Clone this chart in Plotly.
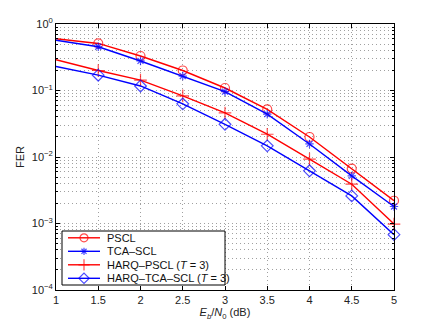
import plotly.graph_objects as go

ebn0 = [1, 1.5, 2, 2.5, 3, 3.5, 4, 4.5, 5]
pscl = [0.60, 0.51, 0.33, 0.20, 0.109, 0.052, 0.020, 0.0067, 0.0022]
tca_scl = [0.57, 0.455, 0.278, 0.165, 0.096, 0.044, 0.0157, 0.0052, 0.0018]
harq_pscl = [0.29, 0.20, 0.143, 0.083, 0.046, 0.022, 0.0093, 0.0039, 0.00098]
harq_tca_scl = [0.23, 0.17, 0.117, 0.063, 0.031, 0.0147, 0.0062, 0.0026, 0.00068]

x_ticks = [1, 1.5, 2, 2.5, 3, 3.5, 4, 4.5, 5]
x_ticktext = ["1", "1.5", "2", "2.5", "3", "3.5", "4", "4.5", "5"]
y_ticks = [1e-4, 1e-3, 1e-2, 1e-1, 1]
y_ticktext = ["10<sup>−4</sup>", "10<sup>−3</sup>", "10<sup>−2</sup>", "10<sup>−1</sup>", "10<sup>0</sup>"]

names = ["PSCL", "TCA–SCL", "HARQ–PSCL (<i>T</i> = 3)", "HARQ–TCA–SCL (<i>T</i> = 3)"]
series = [pscl, tca_scl, harq_pscl, harq_tca_scl]
colors = ["#ff0000", "#0000ff", "#ff0000", "#0000ff"]
symbols = ["circle-open", "asterisk-open", "cross-thin-open", "diamond-open"]
sizes = [9, 7, 9, 9]

W, H = 436, 327
ML, MR, MT, MB = 56, 42, 24, 37

fig = go.Figure()
for n, s, c, sym, sz in zip(names, series, colors, symbols, sizes):
    # the reference shows no marker on the left axis edge (x = 1)
    msizes = [0 if xv == ebn0[0] else sz for xv in ebn0]
    fig.add_trace(go.Scatter(
        x=ebn0, y=s, name=n, mode="lines+markers", showlegend=False,
        line=dict(color=c, width=1.4),
        marker=dict(symbol=sym, size=msizes, color=c, line=dict(color=c, width=1.2)),
        cliponaxis=False,
    ))

# custom compact legend (MATLAB style), placed on an overlay axis in pixel units
leg_left, leg_right, leg_top, leg_bottom = 62, 225, 231, 285
row0, row_step = 237.8, 13.5
fig.add_trace(go.Scatter(
    x=[leg_left, leg_right, leg_right, leg_left, leg_left],
    y=[leg_top, leg_top, leg_bottom, leg_bottom, leg_top],
    xaxis="x2", yaxis="y2", mode="lines", fill="toself", fillcolor="white",
    line=dict(color="black", width=1), showlegend=False, hoverinfo="skip",
))
for i, (n, c, sym, sz) in enumerate(zip(names, colors, symbols, sizes)):
    yy = row0 + i * row_step
    fig.add_trace(go.Scatter(
        x=[68, 84, 100], y=[yy, yy, yy], xaxis="x2", yaxis="y2", mode="lines+markers",
        showlegend=False, hoverinfo="skip",
        line=dict(color=c, width=1.4),
        marker=dict(symbol=sym, size=[0, sz - 1, 0], color=c, line=dict(color=c, width=1.2)),
    ))
    fig.add_annotation(xref="x2", yref="y2", x=105, y=yy, text=n, showarrow=False,
                       xanchor="left", yanchor="middle",
                       font=dict(family="Liberation Sans, Arial, sans-serif", size=11, color="#111"))

font = dict(family="Liberation Sans, Arial, sans-serif", size=11, color="#222")
grid = dict(showgrid=True, gridcolor="#a0a0a0", griddash="1px,3px", gridwidth=1)
fig.update_layout(
    width=W, height=H,
    margin=dict(l=ML, r=MR, t=MT, b=MB, autoexpand=False),
    paper_bgcolor="white", plot_bgcolor="white",
    font=font,
    showlegend=False,
    xaxis=dict(
        range=[1, 5], tickvals=x_ticks, ticktext=x_ticktext,
        showline=True, linecolor="black", linewidth=1, mirror="ticks",
        ticks="inside", ticklen=4, tickcolor="black",
        zeroline=False, automargin=False,
        title=dict(text="<i>E</i><sub><i>b</i></sub>/<i>N</i><sub>0</sub> (dB)", standoff=2, font=font),
        **grid,
    ),
    yaxis=dict(
        type="log", range=[-4, 0],
        tickvals=y_ticks, ticktext=y_ticktext,
        showline=True, linecolor="black", linewidth=1, mirror="ticks",
        ticks="inside", ticklen=4, tickcolor="black",
        minor=dict(ticks="inside", ticklen=2, tickcolor="black", dtick="D1", **grid),
        zeroline=False, automargin=False,
        title=dict(text="FER", standoff=4, font=font),
        **grid,
    ),
    xaxis2=dict(overlaying="x", anchor="y2", range=[ML, W - MR], visible=False, fixedrange=True),
    yaxis2=dict(overlaying="y", anchor="x2", range=[H - MB, MT], visible=False, fixedrange=True),
)
fig.write_html("out.html", config={"displayModeBar": False},
               post_script="document.body.style.margin='0';document.body.style.padding='0';")
